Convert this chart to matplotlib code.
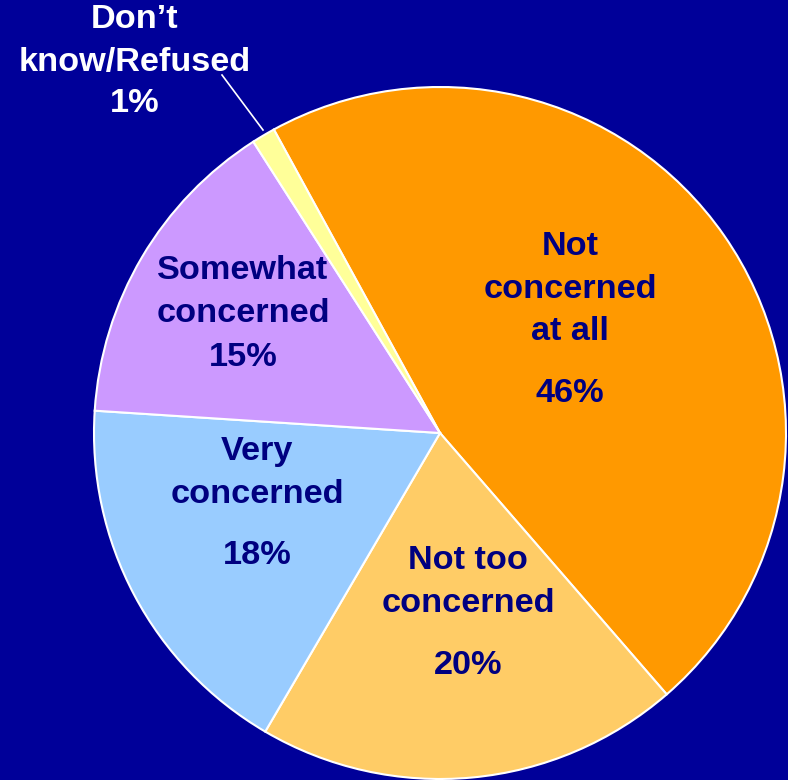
import matplotlib.pyplot as plt

labels = ["Not\nconcerned\nat all", "Not too\nconcerned", "Very\nconcerned", "Somewhat\nconcerned", "Don\u2019t\nknow/Refused"]
values = [46.6, 19.8, 17.6, 14.9, 1.1]
pct_labels = ["46%", "20%", "18%", "15%", "1%"]
colors = ['#FF9900', '#FFCC66', '#99CCFF', '#CC99FF', '#FFFF99']
bg = '#000099'
navy = '#000080'

fig = plt.figure(figsize=(7.88, 7.80), dpi=100, facecolor=bg)
ax = fig.add_axes([0, 0, 1, 1])
ax.set_facecolor(bg)

H = 780
cx, cy, r = 440, H - 433, 346
ax.pie(values, colors=colors, startangle=118.7, counterclock=False,
       center=(cx, cy), radius=r, frame=True,
       wedgeprops=dict(edgecolor='white', linewidth=1.5))
ax.set_xlim(0, 788)
ax.set_ylim(0, 780)
ax.set_aspect('equal')
ax.axis('off')

font = dict(family='Liberation Sans', fontweight='bold', fontsize=24.7, ha='center', va='center')

# label centre x, label centre y, pct y (pixels from top)
pos = [(570, 289, 393), (468, 582, 665), (257, 473, 556), (243, 292, 357), (135, 41, 104)]
for lab, pl, (x, y, py), v in zip(labels, pct_labels, pos, values):
    c = 'white' if v < 2 else navy
    ax.text(x, H - y, lab, color=c, linespacing=1.47, **font)
    ax.text(x, H - py, pl, color=c, **font)

# leader line for the small slice
ax.plot([222, 263], [H - 75, H - 130], color='white', lw=1.2)

fig.savefig('out.png', dpi=100, facecolor=bg)
